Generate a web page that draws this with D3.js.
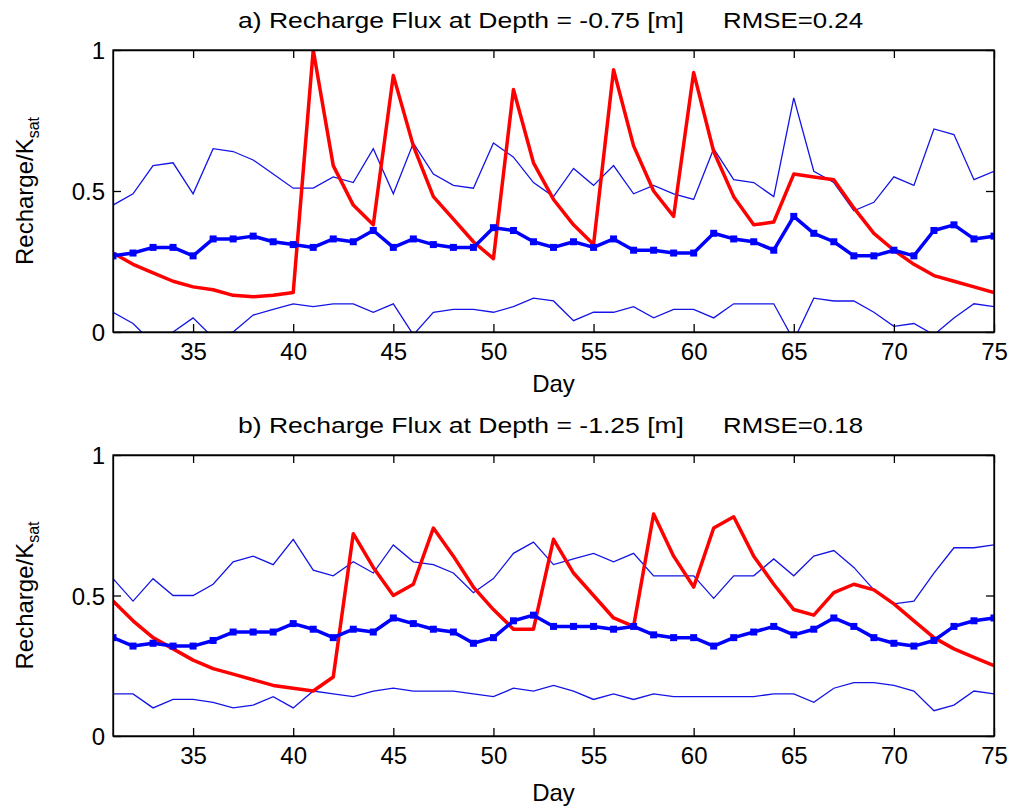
<!DOCTYPE html>
<html>
<head>
<meta charset="utf-8">
<script src="https://cdn.jsdelivr.net/npm/d3@7"></script>
<style>
  body { margin: 0; background: #fff; }
  text { font-family: "Liberation Sans", Arial, sans-serif; fill: #000; }
</style>
</head>
<body>
<div id="chart"></div>
<script>
// Days on the x axis
var days = [31, 32, 33, 34, 35, 36, 37, 38, 39, 40, 41, 42, 43, 44, 45, 46, 47, 48, 49, 50,
            51, 52, 53, 54, 55, 56, 57, 58, 59, 60, 61, 62, 63, 64, 65, 66, 67, 68, 69, 70,
            71, 72, 73, 74, 75];

var xTicks = [35, 40, 45, 50, 55, 60, 65, 70, 75];
var yTicks = [0, 0.5, 1];

// Panel a) depth -0.75 m
var obsA = [0.28, 0.24, 0.21, 0.18, 0.16, 0.15, 0.13, 0.125, 0.13, 0.14, 1.0, 0.59, 0.45, 0.38, 0.91,
            0.66, 0.48, 0.40, 0.32, 0.26, 0.86, 0.60, 0.47, 0.38, 0.31, 0.93, 0.66, 0.50, 0.41, 0.92,
            0.64, 0.48, 0.38, 0.39, 0.56, 0.55, 0.54, 0.44, 0.35, 0.29, 0.24, 0.20, 0.18, 0.16, 0.14];
var meanA = [0.27, 0.28, 0.30, 0.30, 0.27, 0.33, 0.33, 0.34, 0.32, 0.31, 0.30, 0.33, 0.32, 0.36, 0.30,
             0.33, 0.31, 0.30, 0.30, 0.37, 0.36, 0.32, 0.30, 0.32, 0.30, 0.33, 0.29, 0.29, 0.28, 0.28,
             0.35, 0.33, 0.32, 0.29, 0.41, 0.35, 0.32, 0.27, 0.27, 0.29, 0.27, 0.36, 0.38, 0.33, 0.34];
var upperA = [0.45, 0.49, 0.59, 0.60, 0.49, 0.65, 0.64, 0.61, 0.56, 0.51, 0.51, 0.55, 0.53, 0.65, 0.49,
              0.67, 0.56, 0.52, 0.51, 0.67, 0.62, 0.53, 0.48, 0.58, 0.52, 0.59, 0.49, 0.52, 0.49, 0.47,
              0.65, 0.54, 0.53, 0.48, 0.83, 0.57, 0.53, 0.43, 0.46, 0.55, 0.52, 0.72, 0.70, 0.54, 0.57];
var lowerA = [0.07, 0.03, -0.04, 0.00, 0.05, -0.02, 0.00, 0.06, 0.08, 0.10, 0.09, 0.10, 0.10, 0.07, 0.10,
              -0.01, 0.07, 0.08, 0.08, 0.07, 0.09, 0.12, 0.11, 0.04, 0.07, 0.07, 0.09, 0.05, 0.08, 0.08,
              0.05, 0.10, 0.10, 0.10, -0.03, 0.12, 0.11, 0.11, 0.07, 0.02, 0.03, -0.01, 0.05, 0.10, 0.09];

// Panel b) depth -1.25 m
var obsB = [0.48, 0.41, 0.35, 0.31, 0.27, 0.24, 0.22, 0.20, 0.18, 0.17, 0.16, 0.21, 0.72, 0.60, 0.50,
            0.54, 0.74, 0.64, 0.53, 0.45, 0.38, 0.38, 0.70, 0.58, 0.50, 0.42, 0.39, 0.79, 0.64, 0.53,
            0.74, 0.78, 0.64, 0.54, 0.45, 0.43, 0.51, 0.54, 0.52, 0.47, 0.41, 0.35, 0.31, 0.28, 0.25];
var meanB = [0.35, 0.32, 0.33, 0.32, 0.32, 0.34, 0.37, 0.37, 0.37, 0.40, 0.38, 0.35, 0.38, 0.37, 0.42,
             0.40, 0.38, 0.37, 0.33, 0.35, 0.41, 0.43, 0.39, 0.39, 0.39, 0.38, 0.39, 0.36, 0.35, 0.35,
             0.32, 0.35, 0.37, 0.39, 0.36, 0.38, 0.42, 0.39, 0.35, 0.33, 0.32, 0.34, 0.39, 0.41, 0.42];
var upperB = [0.56, 0.48, 0.56, 0.50, 0.50, 0.54, 0.62, 0.64, 0.61, 0.70, 0.59, 0.57, 0.62, 0.58, 0.68,
              0.62, 0.61, 0.58, 0.51, 0.56, 0.65, 0.69, 0.61, 0.63, 0.65, 0.62, 0.65, 0.57, 0.57, 0.57,
              0.49, 0.57, 0.57, 0.63, 0.57, 0.64, 0.66, 0.60, 0.52, 0.47, 0.48, 0.58, 0.67, 0.67, 0.68];
var lowerB = [0.15, 0.15, 0.10, 0.13, 0.13, 0.12, 0.10, 0.11, 0.14, 0.10, 0.16, 0.15, 0.14, 0.16, 0.17,
              0.16, 0.16, 0.16, 0.15, 0.14, 0.17, 0.16, 0.18, 0.16, 0.13, 0.15, 0.13, 0.15, 0.14, 0.14,
              0.14, 0.14, 0.14, 0.15, 0.15, 0.12, 0.17, 0.19, 0.19, 0.18, 0.16, 0.09, 0.11, 0.16, 0.15];

var svg = d3.select("#chart")
  .append("svg")
    .attr("width", 1022)
    .attr("height", 809);

var left = 113, right = 994;

var x = d3.scaleLinear().domain([31, 75]).range([left, right]);

function drawPanel(id, top, bottom, title, rmse, obs, mean, upper, lower, dayY) {
  var y = d3.scaleLinear().domain([0, 1]).range([bottom, top]);
  var g = svg.append("g");

  g.append("clipPath")
      .attr("id", "clip-" + id)
    .append("rect")
      .attr("x", left)
      .attr("y", top)
      .attr("width", right - left)
      .attr("height", bottom - top);

  var plot = g.append("g").attr("clip-path", "url(#clip-" + id + ")");

  var line = function(vals) {
    return d3.line()
      .x(function(d, i) { return x(days[i]); })
      .y(function(d) { return y(d); })(vals);
  };

  // thin bounds
  [upper, lower].forEach(function(vals) {
    plot.append("path")
      .attr("d", line(vals))
      .attr("fill", "none")
      .attr("stroke", "#1414e6")
      .attr("stroke-width", 1.3);
  });

  // observed (red)
  plot.append("path")
    .attr("d", line(obs))
    .attr("fill", "none")
    .attr("stroke", "#ff0000")
    .attr("stroke-width", 3.5)
    .attr("stroke-linejoin", "round");

  // mean (thick blue with squares)
  plot.append("path")
    .attr("d", line(mean))
    .attr("fill", "none")
    .attr("stroke", "#0000ff")
    .attr("stroke-width", 3.5)
    .attr("stroke-linejoin", "round");

  plot.selectAll(".sq")
    .data(mean)
    .enter()
    .append("rect")
      .attr("x", function(d, i) { return x(days[i]) - 3.5; })
      .attr("y", function(d) { return y(d) - 3.5; })
      .attr("width", 7)
      .attr("height", 7)
      .attr("fill", "#0000ff");

  // axes (ticks pointing inward)
  var bx = g.append("g")
    .attr("transform", "translate(0," + bottom + ")")
    .call(d3.axisBottom(x).tickValues(xTicks).tickSizeInner(-8).tickSizeOuter(0).tickPadding(14));
  g.append("g")
    .attr("transform", "translate(0," + top + ")")
    .call(d3.axisTop(x).tickValues(xTicks).tickSizeInner(-8).tickSizeOuter(0).tickFormat(""));
  var ly = g.append("g")
    .attr("transform", "translate(" + left + ",0)")
    .call(d3.axisLeft(y).tickValues(yTicks).tickSizeInner(-8).tickSizeOuter(0).tickPadding(8)
      .tickFormat(function(d) { return d === 0.5 ? "0.5" : d; }));
  g.append("g")
    .attr("transform", "translate(" + right + ",0)")
    .call(d3.axisRight(y).tickValues(yTicks).tickSizeInner(-8).tickSizeOuter(0).tickFormat(""));

  g.selectAll(".domain").attr("stroke", "#000").attr("stroke-width", 1.3);
  g.selectAll(".tick line").attr("stroke", "#000").attr("stroke-width", 1.3);
  g.selectAll(".tick text")
    .attr("font-family", "Liberation Sans, Arial, sans-serif")
    .attr("font-size", "24px")
    .attr("fill", "#000");
  bx.selectAll(".tick text").attr("dy", "0.6em");
  ly.selectAll(".tick text").attr("dy", "0.36em");

  // frame
  g.append("rect")
    .attr("x", left)
    .attr("y", top)
    .attr("width", right - left)
    .attr("height", bottom - top)
    .attr("fill", "none")
    .attr("stroke", "#000")
    .attr("stroke-width", 1.3);

  // title
  g.append("text")
    .attr("x", 238)
    .attr("y", top - 22)
    .attr("font-size", "22px")
    .attr("textLength", 446)
    .attr("lengthAdjust", "spacingAndGlyphs")
    .text(title);
  g.append("text")
    .attr("x", 723)
    .attr("y", top - 22)
    .attr("font-size", "22px")
    .attr("textLength", 140)
    .attr("lengthAdjust", "spacingAndGlyphs")
    .text(rmse);

  // x label
  g.append("text")
    .attr("x", (left + right) / 2)
    .attr("y", dayY)
    .attr("text-anchor", "middle")
    .attr("font-size", "24px")
    .text("Day");

  // y label
  var yl = g.append("text")
    .attr("transform", "translate(33," + ((top + bottom) / 2) + ") rotate(-90)")
    .attr("text-anchor", "middle")
    .attr("font-size", "24px");
  yl.append("tspan").text("Recharge/K");
  yl.append("tspan").attr("dy", 6).attr("font-size", "16px").text("sat");
}

drawPanel("a", 50, 332, "a) Recharge Flux at Depth = -0.75 [m]", "RMSE=0.24",
  obsA, meanA, upperA, lowerA, 392);
drawPanel("b", 455, 736, "b) Recharge Flux at Depth = -1.25 [m]", "RMSE=0.18",
  obsB, meanB, upperB, lowerB, 801);
</script>
</body>
</html>
